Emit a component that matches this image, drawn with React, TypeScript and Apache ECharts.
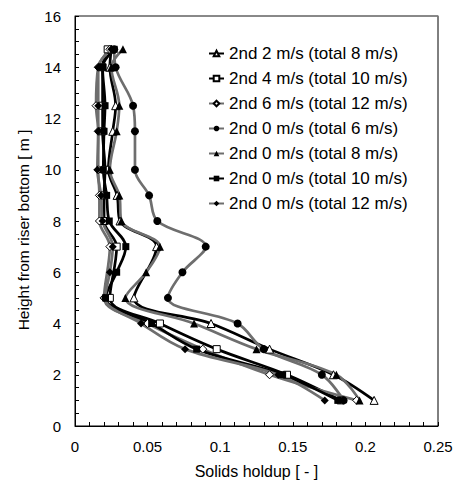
import React, { useEffect, useRef } from "react";
import * as echarts from "echarts";

const HEIGHTS_OPEN = [1, 2, 3, 4, 5, 7, 8, 9, 10, 11.5, 12.5, 14, 14.7];
const HEIGHTS_FILLED = [1, 2, 3, 4, 5, 6, 7, 8, 9, 10, 11.5, 12.5, 14, 14.7];

const OPEN_TRI = [0.206, 0.178, 0.134, 0.0937, 0.0406, 0.0562, 0.031, 0.029, 0.023, 0.026, 0.028, 0.024, 0.025];
const OPEN_SQ = [0.183, 0.146, 0.0976, 0.0585, 0.024, 0.0287, 0.02, 0.02, 0.0207, 0.019, 0.019, 0.019, 0.0225];
const OPEN_DIA = [0.194, 0.134, 0.088, 0.05, 0.02, 0.024, 0.0168, 0.0168, 0.016, 0.016, 0.0145, 0.016, 0.024];
const FILL_CIR = [0.185, 0.17, 0.13, 0.112, 0.064, 0.074, 0.09, 0.0567, 0.051, 0.0413, 0.0413, 0.04, 0.028, 0.027];
const FILL_TRI = [0.196, 0.18, 0.125, 0.082, 0.0347, 0.049, 0.0585, 0.032, 0.0305, 0.024, 0.0287, 0.0305, 0.025, 0.033];
const FILL_SQ = [0.181, 0.143, 0.0838, 0.0528, 0.021, 0.0287, 0.035, 0.0236, 0.0218, 0.0195, 0.02, 0.0207, 0.019, 0.027];
const FILL_DIA = [0.172, 0.14, 0.0758, 0.0455, 0.0207, 0.024, 0.026, 0.019, 0.018, 0.0154, 0.016, 0.016, 0.016, 0.025];

const NAMES = [
  "2nd 2 m/s (total 8 m/s)",
  "2nd 4 m/s (total 10 m/s)",
  "2nd 6 m/s (total 12 m/s)",
  "2nd 0 m/s (total 6 m/s)",
  "2nd 0 m/s (total 8 m/s)",
  "2nd 0 m/s (total 10 m/s)",
  "2nd 0 m/s (total 12 m/s)",
];

const FONT = "'Liberation Sans', Arial, sans-serif";

function pairs(xs: number[], hs: number[]) {
  return xs.map((x, i) => [x, hs[i]]);
}

export default function App() {
  const ref = useRef<HTMLDivElement>(null);
  useEffect(() => {
    if (!ref.current) return;
    const chart = echarts.init(ref.current, undefined, { renderer: "svg" });
    const BLACK = "#000000";
    const GRAY = "#6e6e6e";
    const mk = (
      name: string,
      data: number[][],
      symbol: string,
      size: number,
      open: boolean,
      lineColor: string
    ) => ({
      name,
      type: "line",
      data,
      smooth: 0.35,
      symbol,
      symbolSize: size,
      showAllSymbol: true,
      lineStyle: { color: lineColor, width: 2.7 },
      itemStyle: open
        ? { color: "#ffffff", borderColor: "#000000", borderWidth: 1 }
        : { color: "#000000", borderColor: "#000000", borderWidth: 0 },
      emphasis: { disabled: true },
      z: 2,
    });
    chart.setOption({
      animation: false,
      textStyle: { fontFamily: FONT },
      grid: {
        left: 75,
        right: 21,
        top: 16,
        bottom: 57,
        show: true,
        borderColor: "#000",
        borderWidth: 1,
      },
      legend: {
        orient: "vertical",
        left: 203,
        top: 40,
        itemWidth: 15,
        itemHeight: 7,
        itemGap: 8,
        data: NAMES,
        textStyle: { fontSize: 17, color: "#000", fontFamily: FONT, lineHeight: 17 },
      },
      xAxis: [
        {
          type: "value",
          min: 0,
          max: 0.25,
          interval: 0.05,
          name: "Solids holdup [ - ]",
          nameLocation: "middle",
          nameGap: 37,
          nameTextStyle: { fontSize: 16, color: "#000", fontFamily: FONT },
          axisLine: { lineStyle: { color: "#000", width: 1 } },
          axisTick: { inside: true, length: 4, lineStyle: { color: "#000" } },
          minorTick: { show: true, splitNumber: 5, length: 4, lineStyle: { color: "#000" } },
          axisLabel: { fontSize: 15, color: "#000", margin: 13, fontFamily: FONT },
          splitLine: { show: false },
        },
        {
          type: "value",
          position: "top",
          min: 0,
          max: 0.25,
          axisLine: { show: true, onZero: false, lineStyle: { color: "#8c8c8c", width: 1.5 } },
          axisTick: { show: false },
          axisLabel: { show: false },
          splitLine: { show: false },
        },
      ],
      yAxis: {
        type: "value",
        min: 0,
        max: 16,
        interval: 2,
        name: "Height from riser bottom [ m ]",
        nameLocation: "middle",
        nameGap: 44,
        nameTextStyle: { fontSize: 15.5, color: "#000", fontFamily: FONT, padding: [0, 18, 0, 0] },
        axisLine: { show: true, lineStyle: { color: "#000", width: 1 } },
        axisTick: { show: true, inside: true, length: 4, lineStyle: { color: "#000" } },
        minorTick: { show: true, splitNumber: 4, length: 4, lineStyle: { color: "#000" } },
        axisLabel: { fontSize: 15, color: "#000", margin: 14, fontFamily: FONT },
        splitLine: { show: false },
      },
      series: [
        mk(NAMES[0], pairs(OPEN_TRI, HEIGHTS_OPEN), "triangle", 8, true, BLACK),
        mk(NAMES[1], pairs(OPEN_SQ, HEIGHTS_OPEN), "rect", 7, true, BLACK),
        mk(NAMES[2], pairs(OPEN_DIA, HEIGHTS_OPEN), "diamond", 8, true, GRAY),
        mk(NAMES[3], pairs(FILL_CIR, HEIGHTS_FILLED), "circle", 8, false, GRAY),
        mk(NAMES[4], pairs(FILL_TRI, HEIGHTS_FILLED), "triangle", 8, false, GRAY),
        mk(NAMES[5], pairs(FILL_SQ, HEIGHTS_FILLED), "rect", 7, false, BLACK),
        mk(NAMES[6], pairs(FILL_DIA, HEIGHTS_FILLED), "diamond", 8, false, GRAY),
      ],
    });
    return () => chart.dispose();
  }, []);
  return (
    <div
      ref={ref}
      style={{ position: "fixed", left: 0, top: 0, width: 459, height: 484, background: "#fff" }}
    />
  );
}
